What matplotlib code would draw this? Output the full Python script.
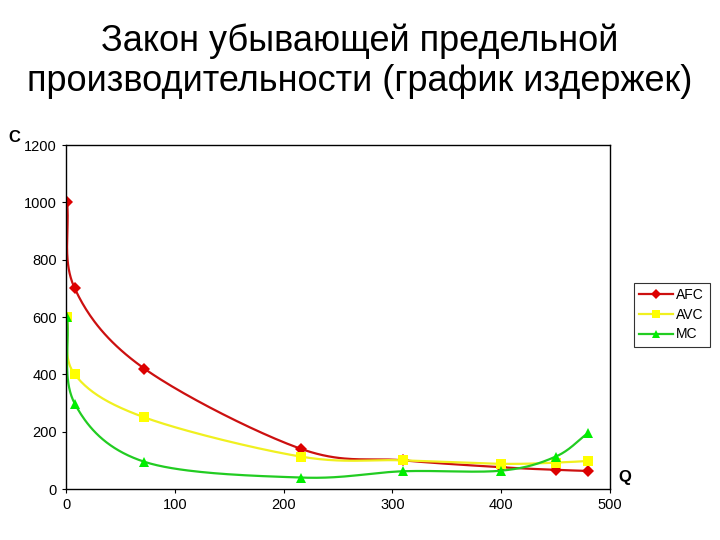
import numpy as np
import matplotlib
matplotlib.use("Agg")
import matplotlib.pyplot as plt

q = [1, 8, 72, 216, 310, 400, 450, 480]
afc = [1000, 700, 420, 140, 100, 76, 67, 63]
avc = [600, 400, 250, 113, 100, 88, 92, 98]
mc = [600, 298, 95, 40, 62, 64, 113, 196]

xticks = [0, 100, 200, 300, 400, 500]
yticks = [0, 200, 400, 600, 800, 1000, 1200]


def smooth(x, y, n=40):
    x = np.asarray(x, float); y = np.asarray(y, float)
    px = np.concatenate([[2 * x[0] - x[1]], x, [2 * x[-1] - x[-2]]])
    py = np.concatenate([[2 * y[0] - y[1]], y, [2 * y[-1] - y[-2]]])
    xs, ys = [], []
    t = np.linspace(0, 1, n)
    for i in range(1, len(px) - 2):
        p0, p1, p2, p3 = [np.array([px[j], py[j]]) for j in (i - 1, i, i + 1, i + 2)]
        c1 = p1 + (p2 - p0) / 6
        c2 = p2 - (p3 - p1) / 6
        b = ((1 - t) ** 3)[:, None] * p1 + (3 * (1 - t) ** 2 * t)[:, None] * c1 + \
            (3 * (1 - t) * t ** 2)[:, None] * c2 + (t ** 3)[:, None] * p2
        xs.append(b[:, 0]); ys.append(b[:, 1])
    return np.concatenate(xs), np.concatenate(ys)


fig = plt.figure(figsize=(7.2, 5.4), dpi=100)
fig.text(0.5, 0.887, "Закон убывающей предельной\nпроизводительности (график издержек)",
         ha="center", va="center", fontsize=26, family="Liberation Sans", linespacing=1.2)

ax = fig.add_axes([0.0917, 0.0944, 0.7555, 0.637])
series = [("AFC", afc, "#dd0000", "#cc1010", "D", 6),
          ("AVC", avc, "#ffff00", "#f0f020", "s", 7),
          ("MC", mc, "#00ee00", "#22cc22", "^", 7)]
for name, vals, mcol, lcol, mk, ms in series:
    sx, sy = smooth(q, vals)
    ax.plot(sx, sy, color=lcol, lw=1.6)
    ax.plot(q, vals, linestyle="none", marker=mk, color=mcol, ms=ms, markeredgewidth=0)
ax.set_xlim(0, 500)
ax.set_ylim(0, 1200)
ax.set_xticks(xticks)
ax.set_yticks(yticks)
ax.tick_params(labelsize=10.5, direction="out", length=3, width=0.8)
for lab in ax.get_xticklabels() + ax.get_yticklabels():
    lab.set_family("Liberation Sans")
for s in ax.spines.values():
    s.set_linewidth(1.0)

from matplotlib.lines import Line2D
handles = [Line2D([], [], color=lcol, lw=1.6, marker=mk, markerfacecolor=mcol,
                  markeredgewidth=0, ms=ms - 1) for _, _, mcol, lcol, mk, ms in series]
leg = fig.legend(handles, [s[0] for s in series], loc="center",
                 bbox_to_anchor=(0.933, 0.417), frameon=True, fancybox=False,
                 edgecolor="black", handlelength=2.4, borderpad=0.4,
                 labelspacing=0.4, handletextpad=0.25, prop={"family": "Liberation Sans", "size": 10})
leg.get_frame().set_linewidth(0.8)

fig.text(0.02, 0.746, "C", fontsize=12, fontweight="bold", family="Liberation Sans", ha="center", va="center")
fig.text(0.868, 0.115, "Q", fontsize=12, fontweight="bold", family="Liberation Sans", ha="center", va="center")

fig.savefig("out.png", dpi=100)
